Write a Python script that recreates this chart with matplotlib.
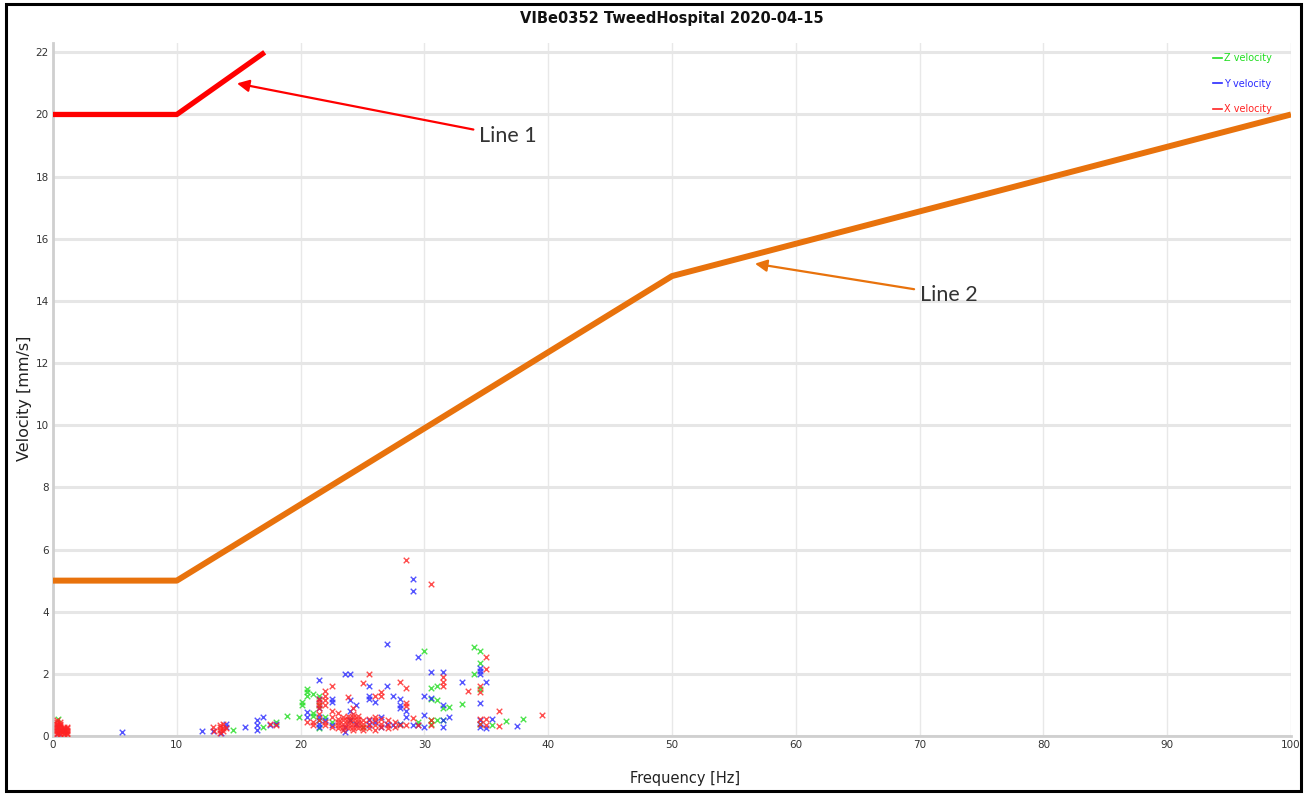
import matplotlib
matplotlib.use("Agg")
import matplotlib.pyplot as plt
from matplotlib.patches import Rectangle
from matplotlib.lines import Line2D

# ---------------- data ----------------
title = "VIBe0352 TweedHospital 2020-04-15"
x_ticks = [0, 10, 20, 30, 40, 50, 60, 70, 80, 90, 100]
y_ticks = [0, 2, 4, 6, 8, 10, 12, 14, 16, 18, 20, 22]

line1_x = [0, 10, 17.1]
line1_y = [20, 20, 22]
line2_x = [0, 10, 50, 100]
line2_y = [5, 5, 14.8, 20]

z_freq = [0.4, 14.5, 17.0, 18.0, 18.9, 19.9, 20.1, 20.1, 20.5, 20.5, 20.5,
          21.0, 21.0, 21.0, 21.5, 21.5, 21.5, 21.5, 22.0, 22.5, 24.0, 25.0,
          28.0, 29.5, 30.0, 30.5, 30.5, 30.5, 30.5, 31.0, 31.0, 31.0, 31.5,
          31.5, 32.0, 33.0, 34.0, 34.0, 34.5, 34.5, 34.5, 34.5, 35.5, 36.6, 38.0]
z_vel = [0.55, 0.2, 0.3, 0.45, 0.65, 0.6, 1.0, 1.1, 1.4, 1.5, 1.3,
         1.35, 0.75, 0.65, 1.3, 1.0, 0.5, 0.25, 0.6, 0.45, 0.5, 0.3,
         0.4, 0.45, 2.75, 1.55, 1.2, 0.4, 0.5, 1.6, 1.17, 0.5, 0.5,
         0.9, 0.93, 1.02, 2.85, 1.98, 2.75, 2.35, 1.5, 0.4, 0.35, 0.47, 0.55]

y_freq = [0.4, 0.4, 1.0, 5.6, 12.0, 12.9, 13.6, 14.0, 14.0, 15.5, 16.5, 16.5,
          16.5, 17.0, 17.5, 18.0, 20.5, 20.5, 21.5, 21.5, 21.5, 21.5, 21.5,
          21.5, 22.0, 22.5, 22.5, 22.5, 23.6, 23.6, 23.6, 24.0, 24.0, 24.0,
          24.0, 24.5, 24.5, 25.5, 25.5, 25.5, 25.5, 25.5, 26.0, 26.0, 26.5,
          26.5, 27.0, 27.0, 27.0, 27.5, 27.5, 28.0, 28.0, 28.0, 28.0, 28.5,
          28.5, 29.05, 29.05, 29.05, 29.5, 29.5, 30.0, 30.0, 30.0, 30.5, 30.5,
          31.5, 31.5, 31.5, 31.5, 32.0, 33.0, 34.5, 34.5, 34.5, 34.5, 34.5,
          34.5, 35.0, 35.0, 35.5, 37.5]
y_vel = [0.1, 0.3, 0.2, 0.13, 0.15, 0.15, 0.1, 0.3, 0.4, 0.28, 0.2, 0.35,
         0.5, 0.6, 0.35, 0.4, 0.6, 0.77, 1.8, 1.2, 0.9, 0.6, 0.4,
         0.3, 0.5, 1.1, 1.2, 0.35, 2.0, 0.14, 0.3, 2.0, 1.15, 0.8,
         0.5, 1.0, 0.4, 1.6, 1.3, 1.2, 0.5, 0.35, 0.45, 1.1, 0.3,
         0.6, 2.96, 1.6, 0.4, 1.3, 0.35, 1.2, 1.0, 0.9, 0.38, 0.82,
         0.6, 5.05, 4.65, 0.35, 2.53, 0.35, 1.3, 0.67, 0.3, 2.05, 1.22,
         2.05, 0.99, 0.3, 0.5, 0.6, 1.75, 2.0, 2.1, 2.2, 1.07, 0.5,
         0.3, 1.73, 0.25, 0.55, 0.33]

x_freq = [0.35, 0.35, 0.35, 0.35, 0.35, 0.35, 0.35, 0.35, 0.35, 0.35,
          0.55, 0.55, 0.55, 0.55, 0.55, 0.55, 0.55, 0.55, 0.55,
          0.9, 0.9, 0.9, 0.9, 0.9, 0.9, 1.15, 1.15, 1.15, 1.15, 1.15, 1.15,
          12.9, 13.0, 13.5, 13.5, 13.5, 13.5, 13.7, 13.7,
          13.7, 14.0, 17.5, 18.0, 20.5, 21.0, 21.0, 21.5, 21.5, 21.5, 21.5,
          21.5, 21.5, 22.0, 22.0, 22.0, 22.0, 22.0, 22.0, 22.5, 22.5, 22.5,
          22.5, 23.0, 23.0, 23.0, 23.0, 23.0, 23.4, 23.4, 23.4, 23.4, 23.4,
          23.8, 23.8, 23.8, 23.8, 23.8, 23.8, 24.2, 24.2, 24.2, 24.2, 24.2,
          24.2, 24.2, 24.6, 24.6, 24.6, 24.6, 24.6, 25.0, 25.0, 25.0, 25.0,
          25.0, 25.5, 25.5, 25.5, 25.5, 26.0, 26.0, 26.0, 26.0, 26.0, 26.5,
          26.5, 26.5, 26.5, 26.5, 27.1, 27.1, 27.1, 27.6, 27.6, 28.0, 28.0,
          28.5, 28.5, 28.5, 28.5, 28.5, 29.05, 29.5, 30.5, 30.5, 30.5, 31.5,
          31.5, 31.5, 33.5, 34.5, 34.5, 34.5, 34.5, 35.0, 35.0, 35.0, 35.0,
          36.0, 36.0, 39.5]
x_vel = [0.05, 0.1, 0.15, 0.2, 0.25, 0.3, 0.35, 0.4, 0.45, 0.5,
         0.05, 0.1, 0.15, 0.2, 0.25, 0.3, 0.35, 0.4, 0.45,
         0.05, 0.1, 0.15, 0.2, 0.25, 0.3, 0.05, 0.1, 0.15, 0.2, 0.25, 0.3,
         0.3, 0.15, 0.1, 0.2, 0.3, 0.35, 0.15, 0.25,
         0.4, 0.25, 0.4, 0.35, 0.45, 0.45, 0.35, 0.5, 0.7, 0.9, 1.0,
         1.1, 1.2, 0.35, 0.45, 1.0, 1.15, 1.3, 1.45, 1.6, 0.6, 0.8,
         0.3, 0.25, 0.35, 0.45, 0.55, 0.75, 0.2, 0.3, 0.4, 0.5, 0.6,
         0.25, 0.35, 0.45, 0.55, 0.65, 1.27, 0.2, 0.3, 0.4, 0.5, 0.6,
         0.7, 0.9, 0.25, 0.35, 0.45, 0.55, 0.65, 0.2, 0.3, 0.4, 0.5,
         1.7, 0.25, 0.4, 0.55, 2.0, 0.2, 0.35, 0.5, 0.6, 1.28, 0.3,
         0.4, 0.55, 1.4, 1.3, 0.25, 0.35, 0.5, 0.3, 0.45, 0.35, 1.75,
         0.35, 0.95, 1.05, 1.55, 5.65, 0.57, 0.37, 0.35, 0.5, 4.9, 1.9,
         1.75, 1.6, 1.45, 1.4, 1.6, 0.4, 0.55, 2.55, 2.15, 0.55, 0.35,
         0.82, 0.33, 0.67]

# ---------------- figure ----------------
W, H = 1307, 796
fig = plt.figure(figsize=(W / 100, H / 100), dpi=100)
fig.patch.set_facecolor("white")

# outer black frame
fig.add_artist(Rectangle((6 / W, 1 - 791 / H), (1301 - 6) / W, (791 - 4) / H,
                         transform=fig.transFigure, fill=False,
                         edgecolor="black", linewidth=2.2))

ax = fig.add_axes([53 / W, 1 - 736 / H, (1291 - 53) / W, (736 - 43) / H])
ax.set_xlim(0, 100)
ax.set_ylim(0, 22.3)

for s in ["top", "right"]:
    ax.spines[s].set_visible(False)
ax.spines["left"].set_color("#cfcfcf")
ax.spines["left"].set_linewidth(2.0)
ax.spines["bottom"].set_color("#cfcfcf")
ax.spines["bottom"].set_linewidth(2.0)

ax.set_xticks(x_ticks)
ax.set_yticks(y_ticks)
ax.tick_params(axis="both", length=0, labelsize=7.5, labelcolor="#333333",
               pad=3)
ax.yaxis.grid(True, color="#e6e6e6", linewidth=2.2)
ax.xaxis.grid(True, color="#e8e8e8", linewidth=1.0)
ax.set_axisbelow(True)

mk = dict(marker="x", s=16, linewidths=1.0, alpha=0.8, zorder=3)
ax.scatter(z_freq, z_vel, color="#22dd22", label="Z velocity", **mk)
ax.scatter(y_freq, y_vel, color="#2a2aff", label="Y velocity", **mk)
ax.scatter(x_freq, x_vel, color="#ff2222", label="X velocity", **mk)

ax.plot(line1_x, line1_y, color="#ff0000", linewidth=3.8,
        solid_capstyle="butt", zorder=4, clip_on=False)
ax.plot(line2_x, line2_y, color="#e8720c", linewidth=4.3,
        solid_capstyle="butt", zorder=4)

# legend
handles = [Line2D([], [], color="#22dd22", lw=1.2),
           Line2D([], [], color="#2a2aff", lw=1.2),
           Line2D([], [], color="#ff2222", lw=1.2)]
leg = ax.legend(handles, ["Z velocity", "Y velocity", "X velocity"],
                loc="upper right", bbox_to_anchor=(0.992, 0.998),
                frameon=False, fontsize=7, handlelength=0.9,
                handletextpad=0.25, labelspacing=1.6)
for t, c in zip(leg.get_texts(), ["#22dd22", "#2a2aff", "#ff2222"]):
    t.set_color(c)

# annotations
ax.annotate("Line 1", xy=(14.86, 21.0), xytext=(34.4, 19.3),
            fontsize=15.5, family="Lato", color="#333333", va="center",
            ha="left",
            arrowprops=dict(arrowstyle="-|>", color="#ff0000", lw=1.6,
                            mutation_scale=18, shrinkA=2, shrinkB=0))
ax.annotate("Line 2", xy=(56.7, 15.2), xytext=(70.0, 14.2),
            fontsize=15.5, family="Lato", color="#333333", va="center",
            ha="left",
            arrowprops=dict(arrowstyle="-|>", color="#e8720c", lw=1.6,
                            mutation_scale=18, shrinkA=2, shrinkB=0))

fig.text(672 / W, 1 - 19 / H, title, ha="center", va="center",
         fontsize=10.5, fontweight="bold", color="#111111")
fig.text(685 / W, 1 - 778 / H, "Frequency [Hz]", ha="center", va="center",
         fontsize=10.5, color="#222222")
fig.text(25 / W, 1 - 398 / H, "Velocity [mm/s]", ha="center", va="center",
         fontsize=11.5, color="#222222", rotation=90)

fig.savefig("out.png", dpi=100, facecolor="white")
